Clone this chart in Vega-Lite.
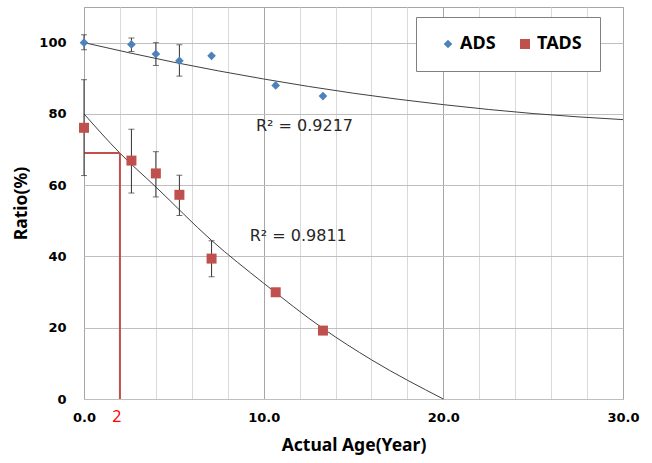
{
  "$schema": "https://vega.github.io/schema/vega-lite/v6.json",
  "width": 539,
  "height": 392,
  "autosize": {"type": "none"},
  "padding": {"left": 84, "top": 7, "right": 29, "bottom": 64},
  "background": "white",
  "config": {
    "view": {"stroke": "#a6a6a6", "strokeWidth": 1},
    "font": "Noto Sans",
    "axis": {"labelOverlap": false, "labelFlush": false, "labelBound": false}
  },
  "datasets": {
    "points": [
      {"age": 0, "ratio": 100, "series": "ADS"},
      {"age": 2.64, "ratio": 99.5, "series": "ADS"},
      {"age": 4, "ratio": 96.8, "series": "ADS"},
      {"age": 5.31, "ratio": 94.9, "series": "ADS"},
      {"age": 7.1, "ratio": 96.3, "series": "ADS"},
      {"age": 10.67, "ratio": 88.0, "series": "ADS"},
      {"age": 13.3, "ratio": 85.0, "series": "ADS"},
      {"age": 0, "ratio": 76.1, "series": "TADS"},
      {"age": 2.64, "ratio": 66.9, "series": "TADS"},
      {"age": 4, "ratio": 63.3, "series": "TADS"},
      {"age": 5.31, "ratio": 57.3, "series": "TADS"},
      {"age": 7.1, "ratio": 39.4, "series": "TADS"},
      {"age": 10.67, "ratio": 29.95, "series": "TADS"},
      {"age": 13.3, "ratio": 19.2, "series": "TADS"}
    ],
    "errors": [
      {"age": 0, "lo": 98.0, "hi": 102.2, "series": "ADS"},
      {"age": 2.64, "lo": 97.5, "hi": 101.3, "series": "ADS"},
      {"age": 4, "lo": 93.6, "hi": 100.0, "series": "ADS"},
      {"age": 5.31, "lo": 90.6, "hi": 99.4, "series": "ADS"},
      {"age": 0, "lo": 62.7, "hi": 89.6, "series": "TADS"},
      {"age": 2.64, "lo": 57.8, "hi": 75.7, "series": "TADS"},
      {"age": 4, "lo": 56.7, "hi": 69.4, "series": "TADS"},
      {"age": 5.31, "lo": 51.5, "hi": 62.8, "series": "TADS"},
      {"age": 7.1, "lo": 34.3, "hi": 44.4, "series": "TADS"}
    ],
    "trend": [
      {"age": 0, "ratio": 100, "series": "ADS"},
      {"age": 5, "ratio": 94.5, "series": "ADS"},
      {"age": 10, "ratio": 89.8, "series": "ADS"},
      {"age": 15, "ratio": 85.8, "series": "ADS"},
      {"age": 20, "ratio": 82.6, "series": "ADS"},
      {"age": 25, "ratio": 80.1, "series": "ADS"},
      {"age": 30, "ratio": 78.4, "series": "ADS"},
      {"age": 0, "ratio": 80, "series": "TADS"},
      {"age": 2, "ratio": 69.0, "series": "TADS"},
      {"age": 4, "ratio": 59.5, "series": "TADS"},
      {"age": 7.1, "ratio": 44.5, "series": "TADS"},
      {"age": 10, "ratio": 32.5, "series": "TADS"},
      {"age": 13.3, "ratio": 19.8, "series": "TADS"},
      {"age": 16, "ratio": 11.0, "series": "TADS"},
      {"age": 20, "ratio": 0, "series": "TADS"}
    ],
    "redlines": [
      {"x1": 0, "x2": 2, "y1": 69, "y2": 69},
      {"x1": 2, "x2": 2, "y1": 0, "y2": 69}
    ],
    "r2": [
      {"age": 9.57, "ratio": 76.7, "label": "R² = 0.9217"},
      {"age": 9.22, "ratio": 45.8, "label": "R² = 0.9811"}
    ],
    "marker": [
      {"age": 2, "ratio": 0, "label": "2"}
    ]
  },
  "layer": [
    {
      "data": {"name": "trend"},
      "mark": {"type": "line", "interpolate": "monotone", "strokeWidth": 1, "color": "#404040"},
      "encoding": {
        "x": {
          "field": "age", "type": "quantitative", "title": "Actual Age(Year)",
          "scale": {"domain": [0, 30], "nice": false, "zero": false},
          "axis": {
            "values": [0, 2, 4, 6, 8, 10, 12, 14, 16, 18, 20, 22, 24, 26, 28, 30],
            "tickCount": 40,
            "labelExpr": "datum.value % 10 === 0 ? format(datum.value, '.1f') : ''",
            "grid": true,
            "gridColor": {"condition": {"test": "datum.value % 10 === 0", "value": "#a6a6a6"}, "value": "#d9d9d9"},
            "gridWidth": 1,
            "ticks": false,
            "domain": false,
            "labelOverlap": false,
            "labelFlush": false,
            "labelFont": "DejaVu Sans",
            "labelFontWeight": "bold",
            "labelFontSize": 13,
            "labelColor": "black",
            "labelPadding": 12,
            "titleFont": "Noto Sans",
            "titleFontWeight": "bold",
            "titleFontSize": 17.5,
            "titleColor": "black",
            "titlePadding": 12
          }
        },
        "y": {
          "field": "ratio", "type": "quantitative", "title": "Ratio(%)",
          "scale": {"domain": [0, 110], "nice": false},
          "axis": {
            "values": [0, 20, 40, 60, 80, 100],
            "tickCount": 10,
            "grid": true,
            "gridColor": "#bfbfbf",
            "ticks": false,
            "domain": false,
            "labelFont": "DejaVu Sans",
            "labelFontWeight": "bold",
            "labelFontSize": 13,
            "labelColor": "black",
            "labelPadding": 18,
            "titleFont": "Noto Sans",
            "titleFontWeight": "bold",
            "titleFontSize": 17.5,
            "titleColor": "black",
            "titlePadding": 8
          }
        },
        "detail": {"field": "series"}
      }
    },
    {
      "data": {"name": "redlines"},
      "mark": {"type": "rule", "color": "#C0504D", "strokeWidth": 2},
      "encoding": {
        "x": {"field": "x1", "type": "quantitative", "title": "Actual Age(Year)"},
        "x2": {"field": "x2"},
        "y": {"field": "y1", "type": "quantitative", "title": "Ratio(%)"},
        "y2": {"field": "y2"}
      }
    },
    {
      "data": {"name": "errors"},
      "mark": {"type": "errorbar", "ticks": {"size": 6, "color": "#333333"}, "rule": {"color": "#333333", "strokeWidth": 1}},
      "encoding": {
        "x": {"field": "age", "type": "quantitative", "title": "Actual Age(Year)"},
        "y": {"field": "lo", "type": "quantitative", "title": "Ratio(%)"},
        "y2": {"field": "hi"}
      }
    },
    {
      "data": {"name": "points"},
      "mark": {"type": "point", "filled": true, "opacity": 1},
      "encoding": {
        "x": {"field": "age", "type": "quantitative", "title": "Actual Age(Year)"},
        "y": {"field": "ratio", "type": "quantitative", "title": "Ratio(%)"},
        "color": {
          "field": "series", "type": "nominal",
          "scale": {"domain": ["ADS", "TADS"], "range": ["#4F81BD", "#C0504D"]},
          "legend": {
            "orient": "none",
            "legendX": 332,
            "legendY": 10,
            "direction": "horizontal",
            "title": null,
            "strokeColor": "#808080",
            "fillColor": "white",
            "padding": 18,
            "symbolOffset": 5,
            "symbolSize": 70,
            "labelOffset": 3,
            "columnPadding": 15,
            "labelFont": "Noto Sans",
            "labelFontWeight": "bold",
            "labelFontSize": 18,
            "labelColor": "black"
          }
        },
        "shape": {
          "field": "series", "type": "nominal",
          "scale": {"domain": ["ADS", "TADS"], "range": ["diamond", "square"]}
        },
        "size": {
          "field": "series", "type": "nominal",
          "scale": {"domain": ["ADS", "TADS"], "range": [75, 100]},
          "legend": null
        }
      }
    },
    {
      "data": {"name": "r2"},
      "mark": {"type": "text", "align": "left", "baseline": "middle", "font": "DejaVu Sans", "fontSize": 16, "color": "#262626"},
      "encoding": {
        "x": {"field": "age", "type": "quantitative", "title": "Actual Age(Year)"},
        "y": {"field": "ratio", "type": "quantitative", "title": "Ratio(%)"},
        "text": {"field": "label"}
      }
    },
    {
      "data": {"name": "marker"},
      "mark": {"type": "text", "align": "center", "baseline": "middle", "font": "Noto Sans", "fontSize": 16, "color": "#FF0000", "dy": 18, "dx": -3},
      "encoding": {
        "x": {"field": "age", "type": "quantitative", "title": "Actual Age(Year)"},
        "y": {"field": "ratio", "type": "quantitative", "title": "Ratio(%)"},
        "text": {"field": "label"}
      }
    }
  ]
}
